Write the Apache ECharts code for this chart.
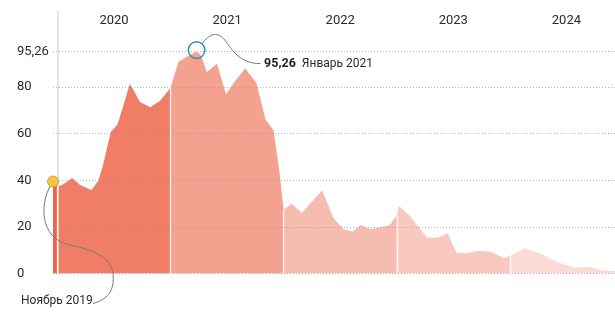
<!DOCTYPE html>
<html><head><meta charset="utf-8">
<script src="https://cdn.jsdelivr.net/npm/echarts@6/dist/echarts.min.js"></script>
<style>html,body{margin:0;padding:0;background:#fff}#c{width:615px;height:321px}</style>
</head><body><div id="c"></div>
<script>
// Time as decimal years
const dates = [2019.96, 2020.00, 2020.04, 2020.13, 2020.20, 2020.30, 2020.36, 2020.40, 2020.47, 2020.53, 2020.55,
  2020.64, 2020.73, 2020.82, 2020.91, 2020.98, 2021.00, 2021.01, 2021.07, 2021.14, 2021.23, 2021.27, 2021.32,
  2021.41, 2021.49, 2021.57, 2021.66, 2021.76, 2021.84, 2021.91, 2021.96, 2022.00, 2022.07, 2022.16, 2022.34,
  2022.44, 2022.53, 2022.61, 2022.68, 2022.77, 2022.87, 2022.94, 2023.00, 2023.02, 2023.12, 2023.27, 2023.36,
  2023.45, 2023.53, 2023.62, 2023.73, 2023.83, 2023.95, 2024.00, 2024.13, 2024.27, 2024.41, 2024.57, 2024.71,
  2024.80, 2024.93];
const values = [39.5, 37.5, 38, 41, 38, 35.8, 39.7, 46, 60.6, 64, 67,
  81.5, 73.6, 71.4, 74.3, 78.6, 80, 81.5, 90.9, 93, 95.26, 93.5, 86.5,
  90, 77, 82.5, 88, 81.7, 66, 61.5, 44.6, 27.3, 30, 26, 35.7,
  23.7, 19, 18, 20.8, 19, 20, 20.8, 25, 29, 24.5, 15.4, 15.4,
  17.3, 8.7, 8.7, 9.8, 9.3, 6.7, 7.5, 10.8, 8.6, 5, 2.6, 2.8,
  1.4, 1.1];
const yearBreaks = [2020, 2021, 2022, 2023, 2024];
const yearLabels = ['2020', '2021', '2022', '2023', '2024'];
const yTicks = [0, 20, 40, 60, 80, 95.26];
const segmentColors = ['#ea6449', '#f07e66', '#f4a18f', '#f7bcb0', '#f9c9c0', '#fbdcd5'];
const peakValue = 95.26;
const peakLabel = 'Январь 2021';
const startLabel = 'Ноябрь 2019';

const FONT = 'Roboto, "Noto Sans", sans-serif';
const points = dates.map((d, i) => [d, values[i]]);
const bounds = [dates[0], ...yearBreaks, dates[dates.length - 1]];
const areaSeries = bounds.slice(0, -1).map((lo, i) => {
  const hi = bounds[i + 1];
  return {
    type: 'line', z: 2, silent: true, showSymbol: false, symbol: 'none',
    lineStyle: { width: 0 },
    areaStyle: { color: segmentColors[i], opacity: 1 },
    data: points.filter(p => p[0] >= lo - 1e-9 && p[0] <= hi + 1e-9)
  };
});
const valueAt = d => values[dates.indexOf(d)];

const chart = echarts.init(document.getElementById('c'), null, { renderer: 'canvas' });
chart.setOption({
  animation: false,
  backgroundColor: '#fff',
  grid: { left: 53, right: 0, top: 11, bottom: 47.5 },
  xAxis: [
    { type: 'value', min: dates[0], max: dates[dates.length - 1],
      axisLine: { show: false }, axisTick: { show: false }, axisLabel: { show: false }, splitLine: { show: false } },
    { type: 'value', position: 'top', min: dates[0], max: dates[dates.length - 1],
      axisLine: { show: false }, axisTick: { show: false }, splitLine: { show: false },
      axisLabel: { inside: true, margin: 3, color: '#2a2a2a', fontSize: 13, fontFamily: FONT,
        customValues: yearLabels.map(l => Number(l) + 0.5),
        formatter: v => String(Math.floor(v)) } }
  ],
  yAxis: {
    type: 'value', min: 0, max: 112.7, z: 4,
    axisLine: { show: false },
    axisTick: { show: false, customValues: yTicks },
    axisLabel: { customValues: yTicks, align: 'left', margin: 36, color: '#2a2a2a', fontSize: 13, fontFamily: FONT,
      formatter: v => String(v).replace('.', ',') },
    splitLine: { show: true, lineStyle: { color: 'rgba(150,150,160,0.7)', type: [1, 2], width: 1 } }
  },
  series: [
    { type: 'line', z: 1, data: [], silent: true,
      markLine: { silent: true, symbol: 'none', label: { show: false },
        lineStyle: { color: '#dcdcdc', type: 'solid', width: 1.5 },
        data: [{ xAxis: yearBreaks[0] }] } },
    ...areaSeries,
    { type: 'line', z: 3, data: [], silent: true,
      markLine: { silent: true, symbol: 'none', label: { show: false },
        lineStyle: { color: '#ffffff', type: 'solid', width: 1.3, opacity: 0.85 },
        data: yearBreaks.map(b => [{ coord: [b, 0] }, { coord: [b, valueAt(b)] }]) } }
  ]
});

const peakIdx = values.indexOf(peakValue);
const pk = chart.convertToPixel({ xAxisIndex: 0, yAxisIndex: 0 }, [dates[peakIdx], peakValue]);
const st = chart.convertToPixel({ xAxisIndex: 0, yAxisIndex: 0 }, [dates[0], values[0]]);
// cubic segment relative to an anchor pixel
const seg = (o, a, c1, c2, b) => ({
  type: 'bezierCurve', z: 10, silent: true,
  shape: { x1: o[0] + a[0], y1: o[1] + a[1], cpx1: o[0] + c1[0], cpy1: o[1] + c1[1],
           cpx2: o[0] + c2[0], cpy2: o[1] + c2[1], x2: o[0] + b[0], y2: o[1] + b[1] },
  style: { fill: null, stroke: '#7a7a7a', lineWidth: 1 }
});
chart.setOption({
  graphic: [
    seg(pk, [5.5, -8], [13, -18], [20, -20], [27, -13]),
    seg(pk, [27, -13], [35, -3], [42, 12], [64, 12]),
    { type: 'circle', z: 11, silent: true, shape: { cx: pk[0], cy: pk[1] - 1.5, r: 8.3 },
      style: { fill: null, stroke: '#2f8fb4', lineWidth: 1.5 } },
    { type: 'text', z: 11, silent: true, x: pk[0] + 67.5, y: pk[1] + 12.5,
      style: { text: '{b|' + String(peakValue).replace('.', ',') + '}  {n|' + peakLabel + '}',
        verticalAlign: 'middle', fontFamily: FONT,
        rich: { b: { fontWeight: 'bold', fontSize: 12.5, fill: '#1f1f1f', fontFamily: FONT },
                n: { fontSize: 12, fill: '#2a2a2a', fontFamily: FONT } } } },
    seg(st, [-3, 5], [-13, 23], [-13, 56], [15, 63]),
    seg(st, [15, 63], [47, 70], [63, 78], [60, 102]),
    seg(st, [60, 102], [58, 116], [47, 120], [40, 122]),
    { type: 'circle', z: 11, silent: true, shape: { cx: st[0], cy: st[1], r: 5.5 },
      style: { fill: '#f6c44c', stroke: '#d7a230', lineWidth: 1 } },
    { type: 'text', z: 11, silent: true, x: st[0] - 32, y: st[1] + 120,
      style: { text: startLabel, verticalAlign: 'middle', fontSize: 12, fill: '#2a2a2a', fontFamily: FONT } }
  ]
});
</script>
</body></html>
